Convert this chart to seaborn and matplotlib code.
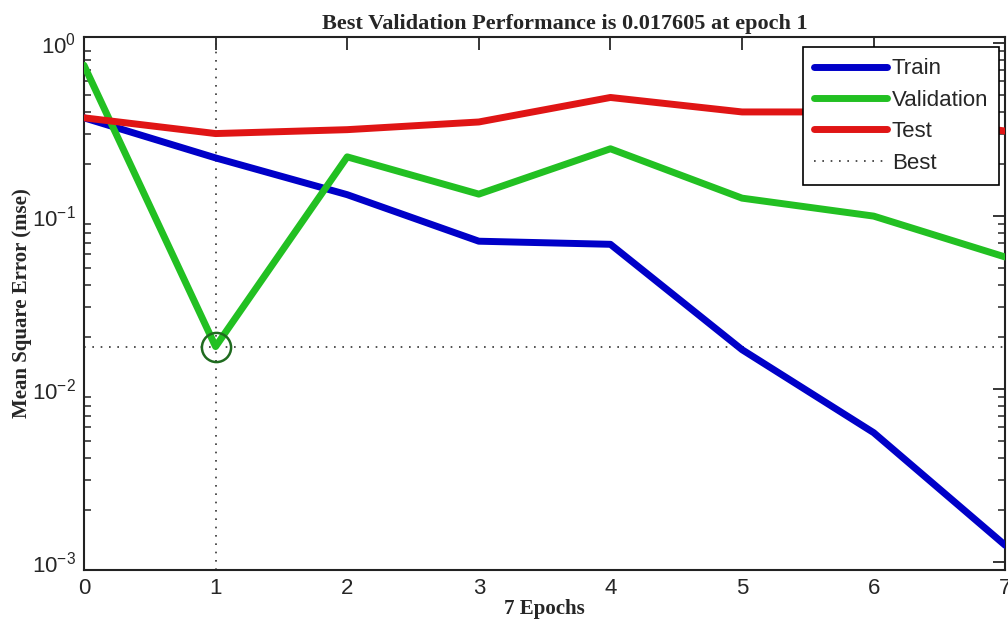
import matplotlib
matplotlib.use('Agg')
import matplotlib.pyplot as plt
from matplotlib.lines import Line2D
import pandas as pd
import seaborn as sns

epochs = [0, 1, 2, 3, 4, 5, 6, 7]
train_mse = [0.37, 0.217, 0.133, 0.0716, 0.0687, 0.0169, 0.0056, 0.00125]
val_mse = [0.745, 0.017605, 0.22, 0.134, 0.245, 0.127, 0.100, 0.058]
test_mse = [0.37, 0.30, 0.316, 0.35, 0.485, 0.40, 0.40, 0.31]
best_epoch = 1
best_val = 0.017605

sns.set_style('white')
plt.rcParams['font.family'] = ['Liberation Sans', 'DejaVu Sans']

df = pd.DataFrame({
    'epoch': epochs * 3,
    'mse': train_mse + val_mse + test_mse,
    'set': ['Train'] * 8 + ['Validation'] * 8 + ['Test'] * 8,
})
colors = {'Train': '#0000c8', 'Validation': '#22c022', 'Test': '#e01515'}

fig = plt.figure(figsize=(10.08, 6.3), dpi=100)
ax = fig.add_axes([0.0833, 0.0952, 0.914, 0.846])

# best lines first so the curves sit on top
ax.axvline(best_epoch, color='#333333', ls=(0, (1, 4)), lw=1.2, zorder=1)
ax.axhline(best_val, color='#333333', ls=(0, (1, 4)), lw=1.2, zorder=1)

sns.lineplot(data=df, x='epoch', y='mse', hue='set', palette=colors,
             linewidth=5, legend=False, ax=ax, zorder=3)
ax.plot([best_epoch], [best_val], marker='o', ms=21, mfc='none',
        mec='#1f6b1f', mew=1.8, zorder=4)

ax.set_yscale('log')
ax.set_xlim(0, 7)
ax.set_ylim(9.0e-4, 1.084)
ax.set_xticks(epochs)
ax.set_yticks([1e-3, 1e-2, 1e-1, 1e0])

ax.tick_params(axis='both', which='major', direction='in', length=9, width=1.3,
               top=True, right=True, labelsize=16, pad=6)
ax.tick_params(axis='y', which='minor', direction='in', length=5, width=1.1,
               left=True, right=True)
for s in ax.spines.values():
    s.set_linewidth(1.5)
    s.set_color('#222222')

ax.set_title('Best Validation Performance is 0.017605 at epoch 1',
             fontfamily='Liberation Serif', fontweight='bold', fontsize=16,
             x=0.522, pad=6)
ax.set_xlabel('7 Epochs', fontfamily='Liberation Serif', fontweight='bold',
              fontsize=15, labelpad=0)
ax.set_ylabel('Mean Square Error (mse)', fontfamily='Liberation Serif',
              fontweight='bold', fontsize=15)
ax.yaxis.set_label_coords(-0.056, 0.5)

handles = [Line2D([], [], color=colors['Train'], lw=5),
           Line2D([], [], color=colors['Validation'], lw=5),
           Line2D([], [], color=colors['Test'], lw=5),
           Line2D([], [], color='#333333', lw=1.2, ls=(0, (1, 4)))]
leg = ax.legend(handles, ['Train', 'Validation', 'Test', 'Best'],
                loc='upper right', bbox_to_anchor=(0.9935, 0.981),
                fontsize=16, frameon=True, fancybox=False, framealpha=1,
                handlelength=3.3, handletextpad=0.2, labelspacing=0.47,
                borderpad=0.5, borderaxespad=0)
leg.get_frame().set_edgecolor('black')
leg.get_frame().set_linewidth(1.2)
leg.set_zorder(10)

fig.savefig('out.png', dpi=100)
